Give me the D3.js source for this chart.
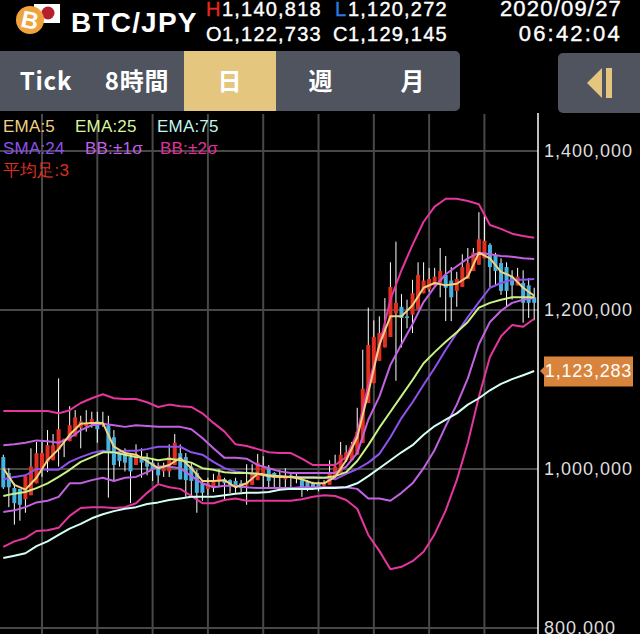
<!DOCTYPE html>
<html><head><meta charset="utf-8">
<script src="https://cdn.jsdelivr.net/npm/d3@7"></script>
<style>
html,body{margin:0;padding:0;background:#000;overflow:hidden}
svg{display:block}
text{font-family:"Liberation Sans",Arial,sans-serif}
</style></head><body>
<svg id="c" width="640" height="634"></svg>
<script>
// price data, thousand JPY per candle
const open=[1015,995,976,975,962,967,982,1000,1009,1011,1024,1035,1035,1041,1052,1054,1058,1060,1055,1055,1040,1020,1018,1015,1005,1015,1014,1008,1003,997,997,1005,1020,1015,1003,995,982,975,977,984,987,986,985,982,979,980,986,994,1000,995,992,987,992,991,986,984,981,981,979,980,990,995,1011,1011,1018,1033,1083,1108,1136,1153,1166,1196,1204,1192,1194,1201,1221,1226,1231,1233,1244,1237,1224,1229,1239,1249,1257,1265,1282,1269,1259,1254,1242,1231,1234,1231,1216];
const high=[1018,1001,982,975,991,1026,1034,1034,1049,1044,1114,1038,1079,1074,1067,1074,1072,1072,1072,1067,1049,1024,1026,1020,1031,1026,1020,1014,1008,1008,1031,1044,1031,1020,1008,999,986,989,994,1000,989,987,989,986,1006,1006,1019,1016,1005,996,999,1001,996,996,989,986,984,984,986,1011,1018,1034,1030,1034,1077,1150,1203,1187,1192,1215,1260,1286,1220,1213,1238,1260,1260,1253,1253,1278,1268,1254,1248,1270,1278,1278,1323,1318,1284,1272,1265,1260,1250,1253,1250,1240,1228];
const low=[975,952,930,935,945,967,982,990,996,1011,1003,1015,1035,1041,1026,1047,1052,1033,1053,964,986,1003,997,957,1005,989,992,985,982,990,990,1005,987,965,966,945,960,967,971,977,961,970,970,971,955,980,986,976,976,977,977,977,977,982,965,972,974,972,975,980,990,995,1009,1011,1018,1033,1083,1108,1136,1153,1166,1111,1153,1177,1171,1201,1221,1223,1231,1216,1186,1186,1204,1229,1239,1249,1257,1265,1229,1231,1219,1205,1213,1231,1184,1190,1187];
const close=[977,977,957,955,991,1003,1020,1020,1030,1030,1050,1038,1055,1065,1060,1058,1063,1050,1058,1020,1005,1010,1008,997,1018,1008,1003,1000,992,1001,1015,1033,987,986,985,970,970,982,984,992,982,980,977,976,982,996,1008,1003,985,989,990,991,990,989,977,977,977,977,982,996,1003,1018,1021,1028,1047,1101,1156,1166,1171,1175,1229,1209,1190,1190,1221,1244,1237,1239,1242,1249,1228,1216,1239,1254,1259,1272,1289,1287,1254,1249,1224,1224,1231,1242,1209,1209,1209];
// indicator data, thousand JPY, one value every 2 candles
const bbUpper2=[1073,1073,1073,1073,1073,1070,1074,1083,1089,1094,1089,1088,1088,1084,1078,1081,1079,1078,1070,1058,1047,1031,1029,1025,1021,1020,1020,1013,1005,1005,1005,1015,1045,1106,1156,1213,1250,1282,1311,1330,1340,1340,1337,1333,1307,1302,1296,1293,1291];
const bbUpper1=[1030,1031,1033,1036,1035,1033,1039,1049,1055,1057,1055,1053,1055,1054,1053,1053,1053,1050,1039,1026,1014,1014,1013,1005,1001,997,995,995,995,995,995,1003,1020,1062,1091,1131,1157,1182,1210,1229,1245,1255,1265,1272,1270,1268,1267,1265,1264];
const sma24=[987,990,992,1000,999,999,1009,1015,1020,1023,1020,1023,1023,1025,1028,1028,1028,1021,1018,1009,1001,997,995,994,992,991,990,990,990,989,987,994,1000,1008,1019,1040,1064,1084,1106,1127,1150,1171,1191,1210,1228,1234,1238,1238,1239];
const ema25=[966,969,971,976,982,990,999,1009,1015,1021,1021,1018,1015,1014,1011,1013,1011,1008,1001,999,996,995,995,994,992,991,990,989,989,989,991,996,1010,1030,1052,1072,1092,1112,1133,1147,1160,1172,1185,1203,1209,1213,1216,1216,1216];
const ema75=[888,891,894,903,909,917,925,931,938,943,947,950,952,956,958,961,963,965,965,965,967,969,970,970,971,974,975,975,975,976,976,977,982,991,1001,1011,1021,1030,1043,1054,1062,1070,1081,1089,1099,1107,1113,1118,1123.283];
const bbLower1=[946,948,952,958,960,965,982,982,986,989,985,989,990,996,1003,1003,1001,991,982,977,979,979,977,976,976,976,976,977,977,977,977,977,975,963,963,960,970,982,1001,1024,1054,1081,1114,1157,1185,1199,1209,1213,1215];
const bbLower2=[902,909,913,922,923,926,941,951,952,952,951,952,957,970,981,977,975,966,957,957,961,963,960,960,960,960,960,962,965,967,966,961,950,917,897,874,877,884,896,918,948,986,1033,1091,1141,1167,1181,1179,1189];
const ema5=[1001,980,974,989,1011,1025,1043,1057,1058,1058,1028,1020,1018,1010,1001,1005,1014,1001,985,985,986,977,982,994,991,990,990,987,982,982,990,1011,1040,1096,1156,1192,1192,1206,1228,1234,1231,1233,1242,1272,1265,1248,1242,1228,1218];
// labels
const yTicks=[800000,1000000,1200000,1400000];
const gridCandles=[7,17,27,37,47,57,67,77,87];
const currentPrice=1123283;
const tabs=["Tick","8時間","日","週","月"];
const tabCenters=[46,137,230,321,413];
const legend=[
 ["EMA:5",3,132,"#efd184"],["EMA:25",75,132,"#d9f59e"],["EMA:75",157,132,"#c4f5ef"],
 ["SMA:24",3,154,"#8e50ea"],["BB:±1σ",85,154,"#c060e8"],["BB:±2σ",160,154,"#e0309e"],
 ["平均足:3",3,176,"#d93020"]];

const svg=d3.select("#c");
const x=d3.scaleLinear().domain([0,open.length-1]).range([3.3,534.2]);
const y=d3.scaleLinear().domain([800,1400]).range([628,151]);
const axisX=538;

// grid
const plot=svg.append("g");
plot.selectAll("line.v").data(gridCandles).join("line").attr("class","v")
 .attr("x1",d=>x(d)).attr("x2",d=>x(d)).attr("y1",114).attr("y2",634)
 .attr("stroke","#484848").attr("stroke-width",2);
plot.selectAll("line.h").data(yTicks).join("line").attr("class","h")
 .attr("x1",0).attr("x2",axisX).attr("y1",d=>y(d/1000)).attr("y2",d=>y(d/1000))
 .attr("stroke","#484848").attr("stroke-width",2);

// candles
const idx=d3.range(open.length);
plot.selectAll("line.w").data(idx).join("line").attr("class","w")
 .attr("x1",i=>x(i)).attr("x2",i=>x(i)).attr("y1",i=>y(high[i])).attr("y2",i=>y(low[i]))
 .attr("stroke","#fff").attr("stroke-width",1);
plot.selectAll("rect.b").data(idx).join("rect").attr("class","b")
 .attr("x",i=>x(i)-2).attr("width",4)
 .attr("y",i=>y(Math.max(open[i],close[i])))
 .attr("height",i=>Math.max(1,Math.abs(y(open[i])-y(close[i]))))
 .attr("fill",i=>close[i]>=open[i]?"#e03022":"#46b2e0");

// indicators
const lineGen=d3.line().x((d,i)=>x(i*2)).y(d=>y(d));
[[bbLower2,"#e6359f"],[bbUpper2,"#e6359f"],[bbLower1,"#c262e2"],[bbUpper1,"#c262e2"],
 [ema75,"#d2fff6"],[sma24,"#8f52f0"],[ema25,"#c9f285"],[ema5,"#f3d27e"]].forEach(([s,c])=>{
  plot.append("path").attr("d",lineGen(s)).attr("fill","none").attr("stroke",c)
   .attr("stroke-width",2).attr("stroke-linejoin","round");
});

// y axis
svg.append("line").attr("x1",axisX).attr("x2",axisX).attr("y1",113).attr("y2",634)
 .attr("stroke","#fff").attr("stroke-width",1.5);
const axis=d3.axisRight(d3.scaleLinear().domain([800000,1400000]).range([628,151]))
 .tickValues(yTicks).tickFormat(d3.format(",")).tickSize(0).tickPadding(6);
const ag=svg.append("g").attr("transform",`translate(${axisX},0)`).call(axis);
ag.select(".domain").remove();
ag.selectAll("text").attr("fill","#dedede").style("font-size","18px").style("letter-spacing","1px")
 .style("font-family","'Liberation Sans'");

// price tag
const py=y(currentPrice/1000);
svg.append("path").attr("d",`M540 ${py}L545 ${py-5}L545 ${py+5}Z`).attr("fill","#d9843c");
svg.append("rect").attr("x",544).attr("y",py-14.5).attr("width",89).attr("height",30).attr("fill","#d9843c");
svg.append("text").attr("x",588.5).attr("y",py+6.5).attr("text-anchor","middle").attr("fill","#fff")
 .style("font-size","18px").style("letter-spacing","0.8px").text(d3.format(",")(currentPrice));

// legend
svg.selectAll("text.lg").data(legend).join("text").attr("class","lg")
 .attr("x",d=>d[1]).attr("y",d=>d[2]).attr("fill",d=>d[3]).style("font-size","17px").style("letter-spacing","0.2px").text(d=>d[0]);

// toolbar
svg.append("rect").attr("x",-8).attr("y",51).attr("width",468).attr("height",60).attr("rx",5).attr("fill","#50545f");
svg.append("rect").attr("x",184).attr("y",51).attr("width",92).attr("height",60).attr("fill","#e5c67f");
svg.selectAll("text.tab").data(tabs).join("text").attr("class","tab")
 .attr("x",(d,i)=>tabCenters[i]).attr("y",90).attr("text-anchor","middle").attr("fill","#fff")
 .style("font-size","24px").style("font-weight","bold").style("font-family","'Noto Sans CJK JP','Liberation Sans'")
 .style("letter-spacing","0.8px").text(d=>d);
svg.append("rect").attr("x",558).attr("y",53).attr("width",90).attr("height",60).attr("rx",5).attr("fill","#50545f");
svg.append("path").attr("d","M587 83L602 68L602 98Z").attr("fill","#e5c67f");
svg.append("rect").attr("x",606).attr("y",68).attr("width",6).attr("height",30).attr("fill","#e5c67f");

// header
svg.append("rect").attr("x",34).attr("y",4).attr("width",26).attr("height",19).attr("fill","#fff");
svg.append("circle").attr("cx",48).attr("cy",13).attr("r",6.5).attr("fill","#b5202f");
svg.append("circle").attr("cx",30).attr("cy",20).attr("r",14).attr("fill","#f0a33c");
svg.append("text").attr("x",30).attr("y",28.5).attr("text-anchor","middle").attr("fill","#fff")
 .attr("transform","rotate(12 30 20)").style("font-size","24px").style("font-weight","bold").text("B");
svg.append("text").attr("x",71).attr("y",32).attr("fill","#fff").style("font-size","28px")
 .style("font-weight","bold").style("letter-spacing","1.2px").text("BTC/JPY");
const hdr=[["H",206,16,"#e02a1a"],["1,140,818",222,16,"#fff"],["L",335,16,"#2a7ae0"],["1,120,272",348,16,"#fff"],
 ["O",206,41,"#fff"],["1,122,733",222,41,"#fff"],["C",333,41,"#fff"],["1,129,145",348,41,"#fff"]];
svg.selectAll("text.hd").data(hdr).join("text").attr("class","hd")
 .attr("x",d=>d[1]).attr("y",d=>d[2]).attr("fill",d=>d[3]).attr("stroke",d=>d[3]).attr("stroke-width",0.4)
 .style("font-size","20px").style("letter-spacing","1.2px").text(d=>d[0]);
[["2020/09/27",16,1.2],["06:42:04",41,2.2]].forEach(([t,yy,ls])=>{
 svg.append("text").attr("x",622).attr("y",yy).attr("text-anchor","end").attr("fill","#fff").attr("stroke","#fff")
  .attr("stroke-width",0.4).style("font-size","22px").style("letter-spacing",ls+"px").text(t);
});
</script></body></html>
